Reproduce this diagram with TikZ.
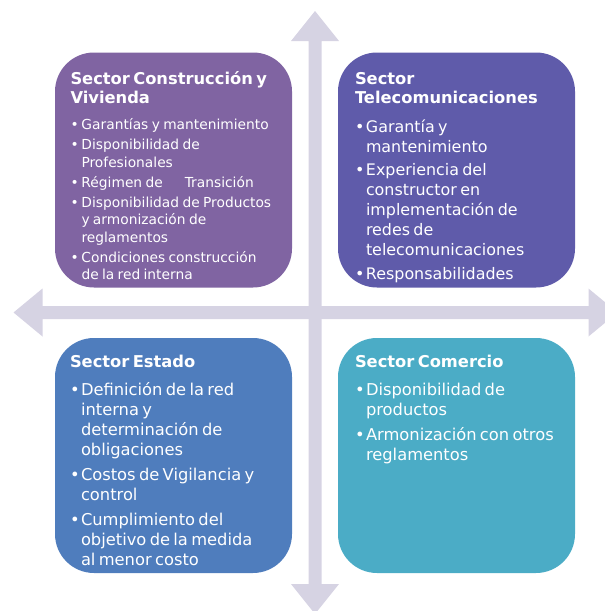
\documentclass[tikz,border=0pt]{standalone}
\usepackage{fontspec}
\setmainfont{DejaVu Sans}

\definecolor{arrowgray}{HTML}{D6D3E3}
\definecolor{constrpurple}{HTML}{8064A2}
\definecolor{telecomindigo}{HTML}{5F5BAA}
\definecolor{estadoblue}{HTML}{4F7DBD}
\definecolor{comercioaqua}{HTML}{4BACC6}

\newlength{\bulgap}
\newcommand{\sectortitle}{\fontsize{16.3pt}{19.7pt}\selectfont\bfseries}
\newcommand{\bul}[2][\bulgap]{\par\vspace{#1}\hangindent=11pt\hangafter=1\noindent\makebox[11pt][l]{\textbullet}#2}

\begin{document}
\begin{tikzpicture}[x=1pt,y=-1pt,
  sectorbox/.style={rounded corners=39pt, inner sep=0pt, minimum width=237pt, minimum height=235pt},
  sectortext/.style={text=white, anchor=base west, inner sep=0pt, text width=250pt, align=left}]
\useasboundingbox (0,0) rectangle (605,611);
\clip (0,0) rectangle (605,611);

% Cross arrows
\fill[arrowgray] (13.5,312.5) -- (42.5,288.5) -- (42.5,306) -- (588.5,306) -- (588.5,288.5)
  -- (617.5,312.5) -- (588.5,336.5) -- (588.5,319) -- (42.5,319) -- (42.5,336.5) -- cycle;
\fill[arrowgray] (315,11) -- (339,41) -- (321.5,41) -- (321.5,584) -- (339,584)
  -- (315,614) -- (291,584) -- (308.5,584) -- (308.5,41) -- (291,41) -- cycle;

% Sector boxes
\node[sectorbox, fill=constrpurple] (constr) at (173.5,170) {};
\node[sectorbox, fill=telecomindigo] (telecom) at (456.5,170) {};
\node[sectorbox, fill=estadoblue] (estado) at (173.5,455.5) {};
\node[sectorbox, fill=comercioaqua] (comercio) at (456.5,455.5) {};

% Texts
\node[sectortext] (constrtxt) at ([shift={(15.5,31.8)}]constr.north west) {\parskip=0pt
  {\sectortitle Sector Construcción y\newline Vivienda\par}
  \fontsize{13.8pt}{17.5pt}\selectfont\setlength{\bulgap}{2.5pt}
  \bul[8.5pt]{Garantías y mantenimiento}
  \bul{Disponibilidad de\newline Profesionales}
  \bul{Régimen de\hspace{22pt}Transición}
  \bul{Disponibilidad de Productos\newline y armonización de\newline reglamentos}
  \bul{Condiciones construcción\newline de la red interna}\par};

\node[sectortext] (telecomtxt) at ([shift={(17,31.8)}]telecom.north west) {\parskip=0pt
  {\sectortitle Sector\newline Telecomunicaciones\par}
  \fontsize{15.9pt}{20pt}\selectfont\setlength{\bulgap}{3.5pt}
  \bul[8.3pt]{Garantía y\newline mantenimiento}
  \bul{Experiencia del\newline constructor en\newline implementación de\newline redes de\newline telecomunicaciones}
  \bul{Responsabilidades}\par};

\node[sectortext] (estadotxt) at ([shift={(15,29.5)}]estado.north west) {\parskip=0pt
  {\sectortitle Sector Estado\par}
  \fontsize{16.3pt}{20pt}\selectfont\setlength{\bulgap}{5pt}
  \bul[8.3pt]{Definición de la red\newline interna y\newline determinación de\newline obligaciones}
  \bul{Costos de Vigilancia y\newline control}
  \bul{Cumplimiento del\newline objetivo de la medida\newline al menor costo}\par};

\node[sectortext] (comerciotxt) at ([shift={(17,29.5)}]comercio.north west) {\parskip=0pt
  {\sectortitle Sector Comercio\par}
  \fontsize{16.3pt}{20pt}\selectfont\setlength{\bulgap}{5pt}
  \bul[8.3pt]{Disponibilidad de\newline productos}
  \bul{Armonización con otros\newline reglamentos}\par};

\end{tikzpicture}
\end{document}
